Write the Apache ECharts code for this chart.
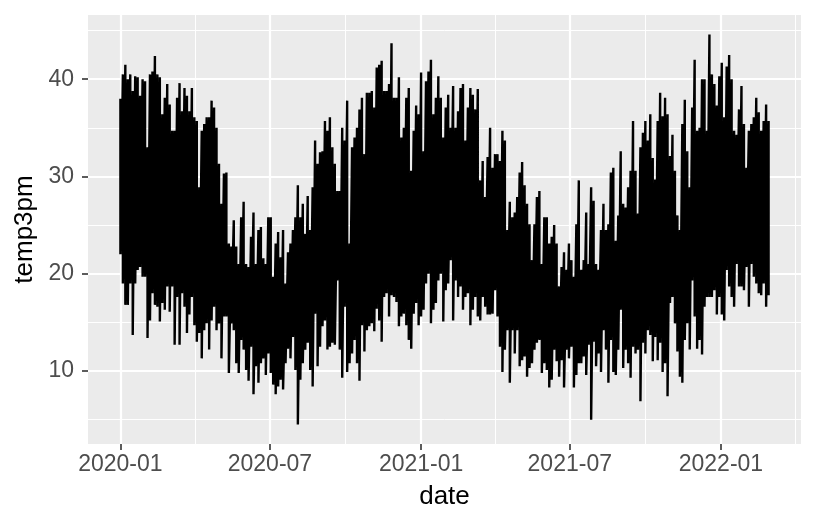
<!DOCTYPE html>
<html><head><meta charset="utf-8">
<script src="https://cdn.jsdelivr.net/npm/echarts@6/dist/echarts.min.js"></script>
<style>html,body{margin:0;padding:0;background:#fff}#c{width:816px;height:528px}</style>
</head><body><div id="c"></div>
<script>
const dates = [
"2020-01-01","2020-01-04","2020-01-07","2020-01-10","2020-01-13","2020-01-16","2020-01-19","2020-01-22","2020-01-25","2020-01-28","2020-01-31",
"2020-02-03","2020-02-06","2020-02-09","2020-02-12","2020-02-15","2020-02-18","2020-02-21","2020-02-24","2020-02-27",
"2020-03-01","2020-03-04","2020-03-07","2020-03-10","2020-03-13","2020-03-16","2020-03-19","2020-03-22","2020-03-25","2020-03-28","2020-03-31",
"2020-04-03","2020-04-06","2020-04-09","2020-04-12","2020-04-15","2020-04-18","2020-04-21","2020-04-24","2020-04-27","2020-04-30",
"2020-05-03","2020-05-06","2020-05-09","2020-05-12","2020-05-15","2020-05-18","2020-05-21","2020-05-24","2020-05-27","2020-05-30",
"2020-06-02","2020-06-05","2020-06-08","2020-06-11","2020-06-14","2020-06-17","2020-06-20","2020-06-23","2020-06-26","2020-06-29",
"2020-07-02","2020-07-05","2020-07-08","2020-07-11","2020-07-14","2020-07-17","2020-07-20","2020-07-23","2020-07-26","2020-07-29",
"2020-08-01","2020-08-04","2020-08-07","2020-08-10","2020-08-13","2020-08-16","2020-08-19","2020-08-22","2020-08-25","2020-08-28","2020-08-31",
"2020-09-03","2020-09-06","2020-09-09","2020-09-12","2020-09-15","2020-09-18","2020-09-21","2020-09-24","2020-09-27","2020-09-30",
"2020-10-03","2020-10-06","2020-10-09","2020-10-12","2020-10-15","2020-10-18","2020-10-21","2020-10-24","2020-10-27","2020-10-30",
"2020-11-02","2020-11-05","2020-11-08","2020-11-11","2020-11-14","2020-11-17","2020-11-20","2020-11-23","2020-11-26","2020-11-29",
"2020-12-02","2020-12-05","2020-12-08","2020-12-11","2020-12-14","2020-12-17","2020-12-20","2020-12-23","2020-12-26","2020-12-29",
"2021-01-01","2021-01-04","2021-01-07","2021-01-10","2021-01-13","2021-01-16","2021-01-19","2021-01-22","2021-01-25","2021-01-28","2021-01-31",
"2021-02-03","2021-02-06","2021-02-09","2021-02-12","2021-02-15","2021-02-18","2021-02-21","2021-02-24","2021-02-27",
"2021-03-02","2021-03-05","2021-03-08","2021-03-11","2021-03-14","2021-03-17","2021-03-20","2021-03-23","2021-03-26","2021-03-29",
"2021-04-01","2021-04-04","2021-04-07","2021-04-10","2021-04-13","2021-04-16","2021-04-19","2021-04-22","2021-04-25","2021-04-28",
"2021-05-01","2021-05-04","2021-05-07","2021-05-10","2021-05-13","2021-05-16","2021-05-19","2021-05-22","2021-05-25","2021-05-28","2021-05-31",
"2021-06-03","2021-06-06","2021-06-09","2021-06-12","2021-06-15","2021-06-18","2021-06-21","2021-06-24","2021-06-27","2021-06-30",
"2021-07-03","2021-07-06","2021-07-09","2021-07-12","2021-07-15","2021-07-18","2021-07-21","2021-07-24","2021-07-27","2021-07-30",
"2021-08-02","2021-08-05","2021-08-08","2021-08-11","2021-08-14","2021-08-17","2021-08-20","2021-08-23","2021-08-26","2021-08-29",
"2021-09-01","2021-09-04","2021-09-07","2021-09-10","2021-09-13","2021-09-16","2021-09-19","2021-09-22","2021-09-25","2021-09-28",
"2021-10-01","2021-10-04","2021-10-07","2021-10-10","2021-10-13","2021-10-16","2021-10-19","2021-10-22","2021-10-25","2021-10-28","2021-10-31",
"2021-11-03","2021-11-06","2021-11-09","2021-11-12","2021-11-15","2021-11-18","2021-11-21","2021-11-24","2021-11-27","2021-11-30",
"2021-12-03","2021-12-06","2021-12-09","2021-12-12","2021-12-15","2021-12-18","2021-12-21","2021-12-24","2021-12-27","2021-12-30",
"2022-01-02","2022-01-05","2022-01-08","2022-01-11","2022-01-14","2022-01-17","2022-01-20","2022-01-23","2022-01-26","2022-01-29",
"2022-02-01","2022-02-04","2022-02-07","2022-02-10","2022-02-13","2022-02-16","2022-02-19","2022-02-22","2022-02-25","2022-02-28"
];
const hi = [
38.0,40.5,41.5,40.0,40.5,38.8,40.3,40.2,38.3,40.0,39.8,33.0,40.5,40.8,42.4,40.5,40.2,36.4,38.1,39.5,37.4,34.7,34.7,38.1,39.6,36.7,39.1,38.3,36.7,39.1,36.1,35.7,28.9,34.7,35.4,36.1,36.1,37.8,37.1,35.0,31.3,27.2,30.3,
30.4,23.1,22.8,25.5,22.8,21.0,25.8,27.4,21.0,20.7,23.8,26.3,21.0,24.5,24.8,21.6,21.0,25.8,25.8,19.7,23.1,24.3,21.7,24.5,19.0,22.2,23.1,24.5,25.8,29.1,25.8,27.2,24.1,28.0,24.5,28.9,33.7,31.3,32.5,32.6,35.7,34.7,36.1,33.0,
31.3,28.5,28.5,35.0,33.7,37.8,23.1,33.0,34.0,35.0,36.9,38.1,32.3,38.6,38.6,38.8,37.1,41.2,41.5,41.9,38.8,38.8,39.5,43.7,38.1,38.1,40.2,34.0,35.0,38.1,39.1,30.6,34.7,37.3,36.4,40.7,32.6,39.8,40.8,42.0,36.4,38.1,40.3,38.1,34.0,
37.1,38.4,35.0,39.3,35.0,36.7,39.1,39.5,33.7,37.1,39.1,38.4,36.9,39.0,29.6,31.6,27.9,32.0,35.0,30.9,32.3,32.3,31.6,34.7,33.7,24.5,27.4,25.8,26.3,27.9,30.4,31.5,29.1,27.2,25.1,21.4,25.1,27.9,28.5,21.0,25.8,25.8,23.1,23.8,
25.0,23.1,18.7,20.7,22.2,20.4,23.1,21.4,19.7,25.1,29.6,20.4,21.4,26.3,21.0,28.9,27.5,21.0,20.4,24.5,27.2,24.5,25.1,30.4,30.9,23.4,26.0,32.6,27.2,26.8,28.9,30.6,35.7,30.6,26.2,33.0,34.5,35.7,33.7,36.4,31.9,29.7,35.7,38.6,36.2,
38.1,36.4,32.1,34.3,30.6,26.0,24.5,35.4,37.9,32.6,28.9,37.1,42.0,34.7,35.0,40.0,40.0,34.7,44.6,40.5,39.5,37.3,40.3,41.7,36.1,41.3,42.5,40.0,34.7,34.3,36.9,39.3,35.4,30.9,34.7,35.4,36.1,38.1,36.6,34.7,35.7,37.4,35.7
];
const lo = [
22.0,19.0,16.8,16.8,19.0,13.7,19.0,20.4,20.7,19.7,19.7,13.4,15.2,18.0,16.8,16.6,15.1,17.0,16.3,18.7,16.1,18.7,12.7,17.6,12.7,18.0,16.6,13.9,15.8,17.6,14.7,13.0,13.9,11.3,14.2,14.9,12.2,15.2,16.6,14.2,14.9,11.3,15.6,
15.6,9.8,14.9,14.2,10.8,9.8,13.2,12.2,10.1,9.0,12.5,7.6,10.5,8.8,10.8,11.3,9.6,11.8,9.8,8.6,7.6,8.4,9.1,8.1,10.8,12.3,11.3,13.5,10.1,4.5,9.1,10.8,12.2,12.9,10.1,8.4,15.9,10.5,12.5,14.6,15.2,12.2,12.5,12.9,
12.7,19.3,12.2,9.3,16.6,9.9,10.8,11.8,13.2,10.8,9.0,14.7,12.0,14.2,14.6,14.9,14.1,16.4,15.2,13.0,17.6,18.0,15.6,17.8,17.6,17.1,14.6,15.6,15.9,14.7,13.2,12.3,15.9,17.0,14.7,15.6,16.3,19.0,20.0,14.9,16.3,17.0,19.3,20.0,15.1,
18.3,19.0,21.4,15.2,19.3,17.6,18.7,16.3,17.6,18.0,14.7,16.3,17.6,15.6,15.2,17.6,16.6,15.8,15.8,15.9,18.3,15.6,12.5,9.9,12.2,14.2,8.8,14.2,11.8,14.2,10.5,11.1,11.5,9.4,10.3,10.8,12.2,12.9,13.2,9.8,10.8,10.1,8.3,9.1,
12.2,11.0,9.4,11.1,8.3,12.2,11.3,12.5,8.3,9.6,10.8,10.8,11.5,9.6,12.7,5.0,13.0,10.5,11.8,9.9,14.2,12.2,8.8,13.2,9.9,9.6,12.2,16.3,10.3,12.2,10.8,9.3,12.5,11.8,12.2,6.9,12.9,11.8,14.2,13.7,11.0,13.5,11.1,12.9,9.9,
10.8,7.4,17.0,17.6,14.9,12.0,9.4,8.8,13.2,14.9,12.2,19.3,15.6,12.3,13.2,11.7,16.6,17.6,17.6,17.6,18.3,15.8,17.6,15.8,15.2,20.4,18.7,17.6,16.6,21.0,18.7,18.7,18.3,20.7,16.6,21.0,19.7,19.0,18.0,17.8,19.0,16.6,17.8
];
const xTicks = ["2020-01-01","2020-07-01","2021-01-01","2021-07-01","2022-01-01"];
const xMinor = ["2020-04-01","2020-10-01","2021-04-01","2021-10-01","2022-04-01"];
const yTicks = [10, 20, 30, 40];
const yMinor = [5, 15, 25, 35, 45];

const ts = s => Date.parse(s);
const data = [];
dates.forEach((d, i) => { data.push([ts(d), hi[i]]); data.push([ts(d), lo[i]]); });
const x0 = ts(dates[0]), x1 = ts(dates[dates.length - 1]);
const xpad = (x1 - x0) * 0.05;
const ymin = Math.min(...lo), ymax = Math.max(...hi);
const ypad = (ymax - ymin) * 0.05;

const gridLines = [];
xMinor.forEach(s => gridLines.push({ xAxis: ts(s), lineStyle: { width: 1 } }));
yMinor.forEach(v => gridLines.push({ yAxis: v, lineStyle: { width: 1 } }));
xTicks.forEach(s => gridLines.push({ xAxis: ts(s), lineStyle: { width: 2.2 } }));
yTicks.forEach(v => gridLines.push({ yAxis: v, lineStyle: { width: 2.2 } }));

const FONT = 'Liberation Sans';
const pad2 = n => (n < 10 ? '0' : '') + n;
const chart = echarts.init(document.getElementById('c'), null, { renderer: 'canvas' });
chart.setOption({
  animation: false,
  grid: { left: 88, right: 15, top: 15, bottom: 84, show: true, backgroundColor: '#EBEBEB', borderWidth: 0 },
  xAxis: {
    type: 'value', min: x0 - xpad, max: x1 + xpad,
    splitLine: { show: false }, axisLine: { show: false },
    axisTick: { show: true, customValues: xTicks.map(ts), length: 6, lineStyle: { color: '#333333', width: 1.6 } },
    axisLabel: { customValues: xTicks.map(ts), color: '#4D4D4D', fontSize: 23, fontFamily: FONT, margin: 9,
      formatter: v => { const d = new Date(v); return d.getUTCFullYear() + '-' + pad2(d.getUTCMonth() + 1); } },
    name: 'date', nameLocation: 'middle', nameGap: 40,
    nameTextStyle: { color: '#000', fontSize: 26, fontFamily: FONT }
  },
  yAxis: {
    type: 'value', min: ymin - ypad, max: ymax + ypad,
    splitLine: { show: false }, axisLine: { show: false },
    axisTick: { show: true, customValues: yTicks, length: 6, lineStyle: { color: '#333333', width: 1.6 } },
    axisLabel: { customValues: yTicks, color: '#4D4D4D', fontSize: 23, fontFamily: FONT, margin: 14 },
    name: 'temp3pm', nameLocation: 'middle', nameGap: 43,
    nameTextStyle: { color: '#000', fontSize: 26, fontFamily: FONT }
  },
  series: [
    { type: 'line', data: [], z: 1, silent: true,
      markLine: { z: 1, silent: true, symbol: ['none', 'none'], label: { show: false }, animation: false,
        lineStyle: { color: '#FFFFFF', type: 'solid' }, emphasis: { disabled: true }, data: gridLines } },
    { type: 'line', data: data, z: 10, silent: true, showSymbol: false, symbol: 'none',
      lineStyle: { color: '#000000', width: 2.4 } }
  ]
});
</script></body></html>
